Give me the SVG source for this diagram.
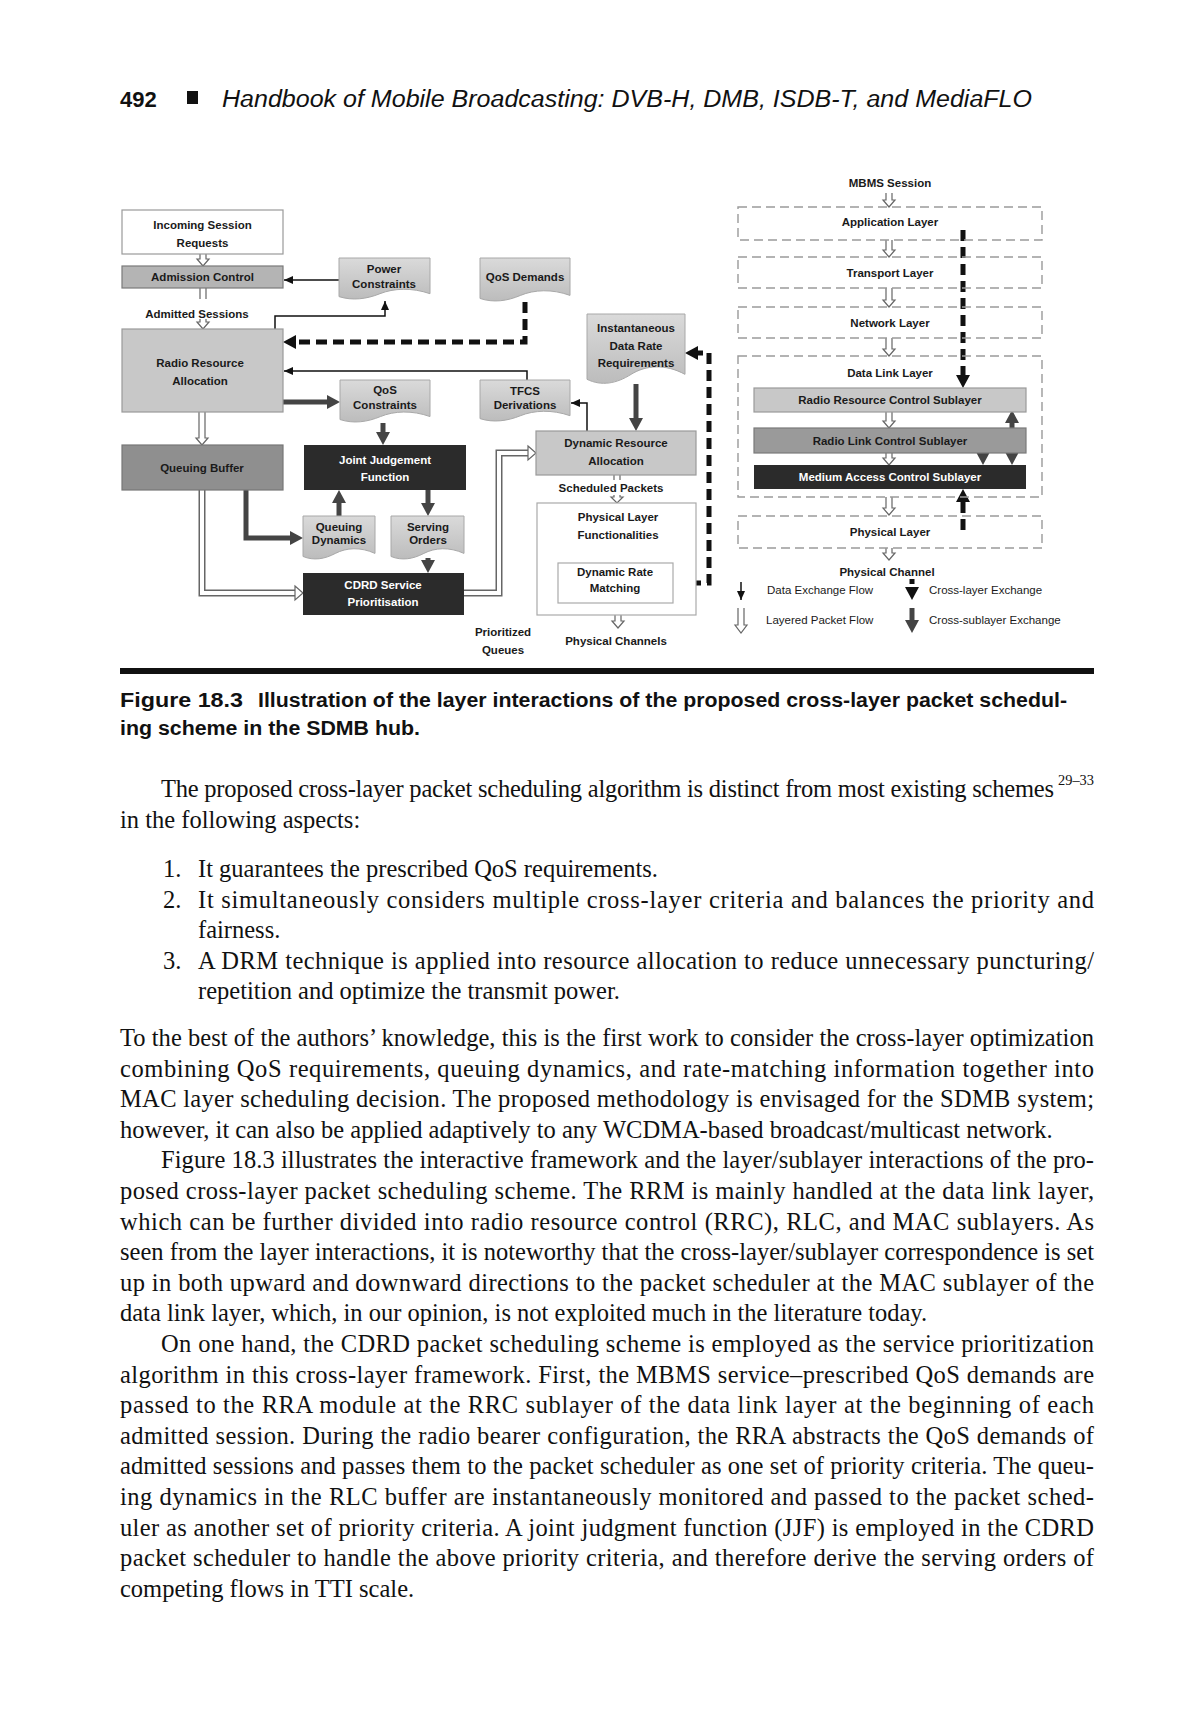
<svg xmlns="http://www.w3.org/2000/svg" xmlns:xlink="http://www.w3.org/1999/xlink" width="1200" height="1727" viewBox="0 0 1200 1727">
<style>
.lbl{font-family:"Liberation Sans",Arial,sans-serif;font-size:11.5px;font-weight:bold;fill:#1a1a1a;text-anchor:middle}
.w{fill:#fff}
.leg{font-family:"Liberation Sans",Arial,sans-serif;font-size:11.5px;fill:#1a1a1a}
.body{font-family:"Liberation Serif","Times New Roman",serif;font-size:24.5px;fill:#111}
.sup{font-family:"Liberation Serif","Times New Roman",serif;font-size:15px;fill:#111}
.dashbox{fill:none;stroke:#9a9a9a;stroke-width:1.4;stroke-dasharray:9 5}
.thin{fill:none;stroke:#111;stroke-width:1.5;marker-end:url(#ahThin)}
.thick{fill:none;stroke:#444;stroke-width:5;marker-end:url(#ahThick)}
.xdash{fill:none;stroke:#111;stroke-width:5;stroke-dasharray:11 6;marker-end:url(#ahDash)}
.hollow{fill:#fff;stroke:#666;stroke-width:1.2}
.stub{fill:none;stroke:#666;stroke-width:1.2}
.pipeO{fill:none;stroke:#666;stroke-width:7}
.pipeI{fill:none;stroke:#fff;stroke-width:4}
.doc{fill:url(#docGrad);stroke:#a8a8a8;stroke-width:1}
</style>
<defs>
<linearGradient id="docGrad" x1="0" y1="0" x2="0" y2="1">
<stop offset="0" stop-color="#dadada"/><stop offset="1" stop-color="#bcbcbc"/>
</linearGradient>
<path id="docShape" d="M0,0 H100 V85 C80,70 60,72 45,85 S15,102 0,92 Z" vector-effect="non-scaling-stroke"/>
<marker id="ahThin" markerUnits="userSpaceOnUse" markerWidth="9" markerHeight="8" refX="9" refY="4" orient="auto"><path d="M0,0 L9,4 L0,8 Z" fill="#111"/></marker>
<marker id="ahThick" markerUnits="userSpaceOnUse" markerWidth="13" markerHeight="14" refX="5" refY="7" orient="auto-start-reverse"><path d="M0,0 L13,7 L0,14 Z" fill="#444"/></marker>
<marker id="ahDash" markerUnits="userSpaceOnUse" markerWidth="13" markerHeight="14" refX="5" refY="7" orient="auto"><path d="M0,0 L13,7 L0,14 Z" fill="#111"/></marker>
</defs>
<rect width="1200" height="1727" fill="#fff"/>

<g id="header">
<text x="120" y="107" font-family="Liberation Sans,Arial,sans-serif" font-weight="bold" font-size="22" fill="#111">492</text>
<rect x="187" y="91" width="11" height="13" fill="#111"/>
<text x="222" y="107" font-family="Liberation Sans,Arial,sans-serif" font-style="italic" font-size="23" fill="#111" textLength="810" lengthAdjust="spacingAndGlyphs">Handbook of Mobile Broadcasting: DVB-H, DMB, ISDB-T, and MediaFLO</text>
</g>

<g id="connectors">
<path class="hollow" d="M200,254 V259 H197 L203,266 L209,259 H206 V254"/>
<path class="stub" d="M200,288 V299 M206,288 V299"/>
<path class="hollow" d="M200,319 V322 H197 L203,329 L209,322 H206 V319"/>
<path class="hollow" d="M199,412 V438 H196 L202,445 L208,438 H205 V412"/>
<path class="stub" d="M614,475 V480 M620,475 V480"/>
<path class="hollow" d="M614,495 V497 H611 L617,503 L623,497 H620 V495"/>
<path class="hollow" d="M615,615 V621 H612 L618,628 L624,621 H621 V615"/>
<path class="hollow" d="M886,193 V200 H883 L889,207 L895,200 H892 V193"/>
<path class="hollow" d="M886,240 V250 H883 L889,257 L895,250 H892 V240"/>
<path class="hollow" d="M886,288 V300 H883 L889,307 L895,300 H892 V288"/>
<path class="hollow" d="M886,338 V349 H883 L889,356 L895,349 H892 V338"/>
<path class="hollow" d="M886,412 V421 H883 L889,428 L895,421 H892 V412"/>
<path class="hollow" d="M886,453 V458 H883 L889,465 L895,458 H892 V453"/>
<path class="hollow" d="M886,497 V508 H883 L889,515 L895,508 H892 V497"/>
<path class="hollow" d="M886,548 V553 H883 L889,560 L895,553 H892 V548"/>
<path class="pipeO" d="M202,490 V593 H297"/>
<path class="pipeI" d="M202,489 V593 H298"/>
<polygon class="hollow" points="295,586 303,593 295,600"/>
<path class="pipeO" d="M464,593 H499 V453 H530"/>
<path class="pipeI" d="M463,593 H499 V453 H531"/>
<polygon class="hollow" points="528,446 536,453 528,460"/>
<path class="thin" d="M339,280 H284"/>
<path class="thin" d="M275,329 V316 H385 V301"/>
<path class="thin" d="M527,380 V371 H284"/>
<path class="thin" d="M587,431 V403 H571"/>
<path class="thick" d="M283,402 H332"/>
<path class="thick" d="M383,423 V437"/>
<path class="thick" d="M339,516 V498"/>
<path class="thick" d="M428,490 V508"/>
<path class="thick" d="M428,558 V565"/>
<path class="thick" d="M246,490 V538 H295"/>
<path class="thick" d="M636,384 V423"/>
<path class="thick" d="M983,453 V457"/>
<path class="thick" d="M1012,418 V457" marker-start="url(#ahThick)"/>
<path class="xdash" d="M525,302 V342 H291"/>
<path class="xdash" d="M673,583 H709 V353 H693"/>
<path class="xdash" d="M963,230 V380"/>
<path class="xdash" d="M963,530 V497"/>
</g>

<g id="incoming"><rect x="122" y="210" width="161" height="44" fill="#fff" stroke="#9a9a9a" stroke-width="1.2"/><text class="lbl" x="202.5" y="229">Incoming Session</text><text class="lbl" x="202.5" y="247">Requests</text></g>
<g id="admission"><rect x="122" y="266" width="161" height="22" fill="#b4b4b4" stroke="#7a7a7a" stroke-width="1.2"/><text class="lbl" x="202.5" y="281">Admission Control</text></g>
<g id="admitted-label"><text class="lbl" x="197" y="318">Admitted Sessions</text></g>
<g id="rra"><rect x="122" y="329" width="161" height="83" fill="#c8c8c8" stroke="#9a9a9a" stroke-width="1.2"/><text class="lbl" x="200" y="367">Radio Resource</text><text class="lbl" x="200" y="385">Allocation</text></g>
<g id="power"><use href="#docShape" class="doc" transform="translate(339,258) scale(0.91,0.42)"/><text class="lbl" x="384" y="273">Power</text><text class="lbl" x="384" y="288">Constraints</text></g>
<g id="qos-constraints"><use href="#docShape" class="doc" transform="translate(340,380) scale(0.9,0.43)"/><text class="lbl" x="385" y="394">QoS</text><text class="lbl" x="385" y="409">Constraints</text></g>
<g id="qos-demands"><use href="#docShape" class="doc" transform="translate(480,258) scale(0.9,0.44)"/><text class="lbl" x="525" y="281">QoS Demands</text></g>
<g id="inst-rate"><use href="#docShape" class="doc" transform="translate(587,314) scale(0.98,0.71)"/><text class="lbl" x="636" y="332">Instantaneous</text><text class="lbl" x="636" y="350">Data Rate</text><text class="lbl" x="636" y="367">Requirements</text></g>
<g id="tfcs"><use href="#docShape" class="doc" transform="translate(480,380) scale(0.9,0.42)"/><text class="lbl" x="525" y="395">TFCS</text><text class="lbl" x="525" y="409">Derivations</text></g>
<g id="dra"><rect x="536" y="431" width="160" height="44" fill="#c8c8c8" stroke="#9a9a9a" stroke-width="1.2"/><text class="lbl" x="616" y="447">Dynamic Resource</text><text class="lbl" x="616" y="465">Allocation</text></g>
<g id="queuing-buffer"><rect x="122" y="445" width="161" height="45" fill="#8f8f8f" stroke="#777" stroke-width="1.2"/><text class="lbl" x="202" y="472">Queuing Buffer</text></g>
<g id="jjf"><rect x="304" y="445" width="162" height="45" fill="#2b2b2b"/><text class="lbl w" x="385" y="464">Joint Judgement</text><text class="lbl w" x="385" y="481">Function</text></g>
<g id="queuing-dynamics"><use href="#docShape" class="doc" transform="translate(303,516) scale(0.72,0.44)"/><text class="lbl" x="339" y="531">Queuing</text><text class="lbl" x="339" y="544">Dynamics</text></g>
<g id="serving-orders"><use href="#docShape" class="doc" transform="translate(391,516) scale(0.73,0.44)"/><text class="lbl" x="428" y="531">Serving</text><text class="lbl" x="428" y="544">Orders</text></g>
<g id="cdrd"><rect x="303" y="573" width="161" height="42" fill="#2b2b2b"/><text class="lbl w" x="383" y="589">CDRD Service</text><text class="lbl w" x="383" y="606">Prioritisation</text></g>
<g id="prioritized-label"><text class="lbl" x="503" y="636">Prioritized</text><text class="lbl" x="503" y="654">Queues</text></g>
<g id="scheduled-label"><text class="lbl" x="611" y="492">Scheduled Packets</text></g>
<g id="phy-func"><rect x="537" y="503" width="159" height="112" fill="#fff" stroke="#aaa" stroke-width="1.2"/><text class="lbl" x="618" y="521">Physical Layer</text><text class="lbl" x="618" y="539">Functionalities</text></g>
<g id="drm"><rect x="558" y="563" width="115" height="40" fill="#fff" stroke="#aaa" stroke-width="1.2"/><text class="lbl" x="615" y="576">Dynamic Rate</text><text class="lbl" x="615" y="592">Matching</text></g>
<g id="phys-channels-label"><text class="lbl" x="616" y="645">Physical Channels</text></g>

<g id="mbms"><text class="lbl" x="890" y="187">MBMS Session</text></g>
<g id="app-layer"><rect class="dashbox" x="738" y="207" width="304" height="33"/><text class="lbl" x="890" y="226">Application Layer</text></g>
<g id="transport-layer"><rect class="dashbox" x="738" y="257" width="304" height="31"/><text class="lbl" x="890" y="277">Transport Layer</text></g>
<g id="network-layer"><rect class="dashbox" x="738" y="307" width="304" height="31"/><text class="lbl" x="890" y="327">Network Layer</text></g>
<g id="datalink-layer"><rect class="dashbox" x="738" y="356" width="304" height="141"/><text class="lbl" x="890" y="377">Data Link Layer</text></g>
<g id="rrc"><rect x="754" y="388" width="272" height="24" fill="#c8c8c8" stroke="#9a9a9a" stroke-width="1.2"/><text class="lbl" x="890" y="404">Radio Resource Control Sublayer</text></g>
<g id="rlc"><rect x="754" y="428" width="272" height="25" fill="#9a9a9a" stroke="#7a7a7a" stroke-width="1.2"/><text class="lbl" x="890" y="445">Radio Link Control Sublayer</text></g>
<g id="mac"><rect x="754" y="465" width="272" height="24" fill="#2b2b2b"/><text class="lbl w" x="890" y="481">Medium Access Control Sublayer</text></g>
<g id="physical-layer"><rect class="dashbox" x="738" y="516" width="304" height="32"/><text class="lbl" x="890" y="536">Physical Layer</text></g>
<g id="phys-channel"><text class="lbl" x="887" y="576">Physical Channel</text></g>
<g id="legend">
<path class="thin" d="M741,582 V600"/>
<text class="leg" x="767" y="594">Data Exchange Flow</text>
<path class="xdash" d="M912,579 V592" style="stroke-dasharray:5 3"/>
<text class="leg" x="929" y="594">Cross-layer Exchange</text>
<path class="hollow" d="M738,608 V625 H735 L741,633 L747,625 H744 V608"/>
<text class="leg" x="766" y="624">Layered Packet Flow</text>
<path class="thick" d="M912,608 V625"/>
<text class="leg" x="929" y="624">Cross-sublayer Exchange</text>
</g>

<g id="caption">
<rect x="120" y="668" width="974" height="6" fill="#111"/>
<text font-family="Liberation Sans,Arial,sans-serif" font-weight="bold" font-size="20" fill="#111" y="707"><tspan x="120" textLength="123" lengthAdjust="spacingAndGlyphs">Figure 18.3</tspan><tspan x="258" textLength="809" lengthAdjust="spacingAndGlyphs">Illustration of the layer interactions of the proposed cross-layer packet schedul-</tspan></text>
<text font-family="Liberation Sans,Arial,sans-serif" font-weight="bold" font-size="20" fill="#111" x="120" y="735" textLength="300" lengthAdjust="spacingAndGlyphs">ing scheme in the SDMB hub.</text>
</g>

<g id="body-text">
<text class="body" x="161" y="797" textLength="893" lengthAdjust="spacing">The proposed cross-layer packet scheduling algorithm is distinct from most existing schemes</text>
<text class="sup" x="1058" y="785" textLength="36" lengthAdjust="spacingAndGlyphs">29–33</text>
<text class="body" x="120" y="828">in the following aspects:</text>
<text class="body" x="163" y="877">1.</text><text class="body" x="198" y="877">It guarantees the prescribed QoS requirements.</text>
<text class="body" x="163" y="908">2.</text><text class="body" x="198" y="908" textLength="896" lengthAdjust="spacing">It simultaneously considers multiple cross-layer criteria and balances the priority and</text>
<text class="body" x="198" y="938">fairness.</text>
<text class="body" x="163" y="969">3.</text><text class="body" x="198" y="969" textLength="896" lengthAdjust="spacing">A DRM technique is applied into resource allocation to reduce unnecessary puncturing/</text>
<text class="body" x="198" y="999">repetition and optimize the transmit power.</text>
<text class="body" x="120" y="1046" textLength="974" lengthAdjust="spacing">To the best of the authors’ knowledge, this is the first work to consider the cross-layer optimization</text>
<text class="body" x="120" y="1077" textLength="974" lengthAdjust="spacing">combining QoS requirements, queuing dynamics, and rate-matching information together into</text>
<text class="body" x="120" y="1107" textLength="974" lengthAdjust="spacing">MAC layer scheduling decision. The proposed methodology is envisaged for the SDMB system;</text>
<text class="body" x="120" y="1138">however, it can also be applied adaptively to any WCDMA-based broadcast/multicast network.</text>
<text class="body" x="161" y="1168" textLength="933" lengthAdjust="spacing">Figure 18.3 illustrates the interactive framework and the layer/sublayer interactions of the pro-</text>
<text class="body" x="120" y="1199" textLength="974" lengthAdjust="spacing">posed cross-layer packet scheduling scheme. The RRM is mainly handled at the data link layer,</text>
<text class="body" x="120" y="1230" textLength="974" lengthAdjust="spacing">which can be further divided into radio resource control (RRC), RLC, and MAC sublayers. As</text>
<text class="body" x="120" y="1260" textLength="974" lengthAdjust="spacing">seen from the layer interactions, it is noteworthy that the cross-layer/sublayer correspondence is set</text>
<text class="body" x="120" y="1291" textLength="974" lengthAdjust="spacing">up in both upward and downward directions to the packet scheduler at the MAC sublayer of the</text>
<text class="body" x="120" y="1321">data link layer, which, in our opinion, is not exploited much in the literature today.</text>
<text class="body" x="161" y="1352" textLength="933" lengthAdjust="spacing">On one hand, the CDRD packet scheduling scheme is employed as the service prioritization</text>
<text class="body" x="120" y="1383" textLength="974" lengthAdjust="spacing">algorithm in this cross-layer framework. First, the MBMS service–prescribed QoS demands are</text>
<text class="body" x="120" y="1413" textLength="974" lengthAdjust="spacing">passed to the RRA module at the RRC sublayer of the data link layer at the beginning of each</text>
<text class="body" x="120" y="1444" textLength="974" lengthAdjust="spacing">admitted session. During the radio bearer configuration, the RRA abstracts the QoS demands of</text>
<text class="body" x="120" y="1474" textLength="974" lengthAdjust="spacing">admitted sessions and passes them to the packet scheduler as one set of priority criteria. The queu-</text>
<text class="body" x="120" y="1505" textLength="974" lengthAdjust="spacing">ing dynamics in the RLC buffer are instantaneously monitored and passed to the packet sched-</text>
<text class="body" x="120" y="1536" textLength="974" lengthAdjust="spacing">uler as another set of priority criteria. A joint judgment function (JJF) is employed in the CDRD</text>
<text class="body" x="120" y="1566" textLength="974" lengthAdjust="spacing">packet scheduler to handle the above priority criteria, and therefore derive the serving orders of</text>
<text class="body" x="120" y="1597">competing flows in TTI scale.</text>
</g>
</svg>
